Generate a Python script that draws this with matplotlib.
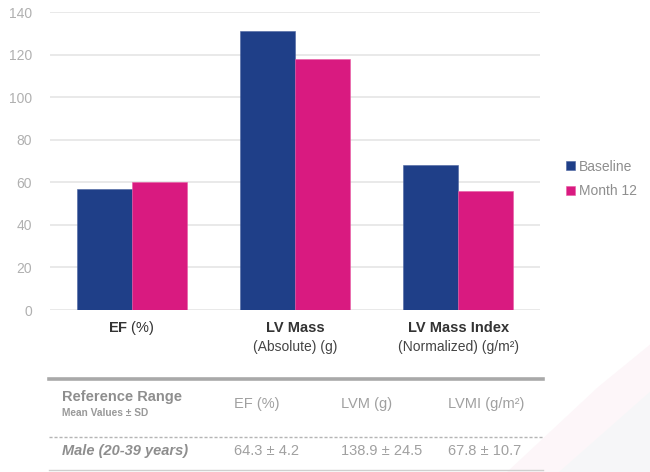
import matplotlib
matplotlib.use('Agg')
import matplotlib.pyplot as plt
from matplotlib.lines import Line2D
from matplotlib.patches import Polygon
import numpy as np

plt.rcParams['font.family'] = ['Liberation Sans', 'DejaVu Sans']
plt.rcParams['mathtext.fontset'] = 'custom'
plt.rcParams['mathtext.rm'] = 'Liberation Sans'
plt.rcParams['mathtext.bf'] = 'Liberation Sans:bold'

# LV measurements, baseline vs month 12
cat_titles = ['EF', 'LV Mass', 'LV Mass Index']
cat_units = [' (%)', '(Absolute) (g)', '(Normalized) (g/m²)']
baseline = [57, 131, 68]
month12 = [60, 118, 56]
series_names = ['Baseline', 'Month 12']

# reference range table
table_cols = ['EF (%)', 'LVM (g)', 'LVMI (g/m²)']
table_row_label = 'Male (20-39 years)'
table_row_vals = ['64.3 ± 4.2', '138.9 ± 24.5', '67.8 ± 10.7']

blue = '#1f3f88'
pink = '#d91a80'
grey_txt = '#8e8e8e'

fig = plt.figure(figsize=(6.5, 4.72), dpi=100)

# faint swoosh in the lower right corner
fig.patches.append(Polygon([[0.80, 0.0], [1.0, 0.0], [1.0, 0.24], [0.93, 0.16]],
                           closed=True, transform=fig.transFigure,
                           facecolor='#f6f6f8', edgecolor='none', zorder=-2))
fig.patches.append(Polygon([[0.78, 0.0], [0.86, 0.0], [1.0, 0.17], [1.0, 0.27], [0.92, 0.18]],
                           closed=True, transform=fig.transFigure,
                           facecolor='#fdf6f9', edgecolor='none', zorder=-1))

ax = fig.add_axes([50 / 650, 1 - 310 / 472, 490 / 650, 298 / 472])
ax.set_facecolor('none')

x = np.arange(len(cat_titles))
w = 0.337
ax.bar(x - w / 2, baseline, w, color=blue, edgecolor='#4a64a0', linewidth=0.4,
       label=series_names[0], zorder=3)
ax.bar(x + w / 2, month12, w, color=pink, edgecolor='#e85aa3', linewidth=0.4,
       label=series_names[1], zorder=3)

ax.set_xlim(-0.5, 2.5)
ax.set_ylim(0, 140)
ax.set_yticks(range(0, 141, 20))
ax.yaxis.grid(True, color='#e3e3e3', linewidth=1.1, zorder=0)
ax.set_axisbelow(True)
for s in ax.spines.values():
    s.set_visible(False)
ax.tick_params(axis='y', length=0, pad=13, labelsize=10, labelcolor='#b0b0b0')
ax.set_xticks([])

# two-line category labels under the bars
for i in x:
    if i == 0:
        ax.text(i, -0.06, r'$\mathbf{EF}$' + cat_units[0], transform=ax.get_xaxis_transform(),
                ha='center', va='center', fontsize=10.5, color='#333333')
    else:
        ax.text(i, -0.06, cat_titles[i], transform=ax.get_xaxis_transform(),
                ha='center', va='center', fontsize=10.5, fontweight='bold', color='#333333')
        ax.text(i, -0.125, cat_units[i], transform=ax.get_xaxis_transform(),
                ha='center', va='center', fontsize=10, color='#444444')

leg = fig.legend(loc='center left', bbox_to_anchor=(0.851, 0.621), frameon=False,
                 fontsize=10, handlelength=0.65, handleheight=0.65, handletextpad=0.3,
                 labelspacing=0.75)
for t in leg.get_texts():
    t.set_color(grey_txt)

# table below the chart
def fy(py):
    return 1 - py / 472

x0, x1 = 49 / 650, 543 / 650
fig.add_artist(Line2D([x0, x1], [fy(379), fy(379)], color='#a9a9a9', linewidth=2.6))
fig.add_artist(Line2D([x0, x1], [fy(437), fy(437)], color='#b5b5b5', linewidth=1,
                      linestyle=(0, (2.2, 1.4))))
fig.add_artist(Line2D([x0, x1], [fy(470), fy(470)], color='#cfcfcf', linewidth=1))

fig.text(62 / 650, fy(397), 'Reference Range', fontsize=10.5, fontweight='bold',
         color=grey_txt, va='center')
fig.text(62 / 650, fy(413), 'Mean Values ± SD', fontsize=7.3, fontweight='bold',
         color='#999999', va='center')
fig.text(62 / 650, fy(451), table_row_label, fontsize=10.5, fontweight='bold',
         fontstyle='italic', color=grey_txt, va='center')

col_x = [234, 341, 448]
for cx, head, val in zip(col_x, table_cols, table_row_vals):
    fig.text(cx / 650, fy(404), head, fontsize=10.5, color='#a0a0a0', va='center')
    fig.text(cx / 650, fy(451), val, fontsize=10.5, color='#a0a0a0', va='center')

fig.savefig('out.png', dpi=100)
